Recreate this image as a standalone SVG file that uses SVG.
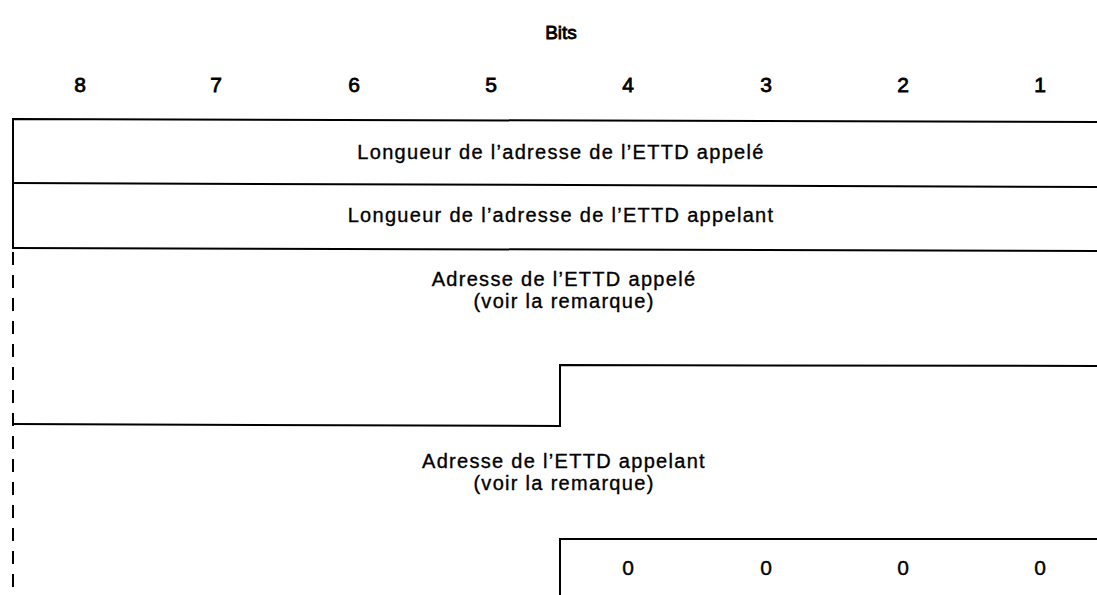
<svg xmlns="http://www.w3.org/2000/svg" width="1097" height="595" viewBox="0 0 1097 595">
<style>
.t{font-family:"Liberation Sans",Arial,sans-serif;font-size:20px;letter-spacing:1.3px;fill:#000;stroke:#000;stroke-width:0.35;text-anchor:middle}
.n{font-family:"Liberation Sans",Arial,sans-serif;font-size:21px;fill:#000;stroke:#000;stroke-width:0.8;text-anchor:middle}
.z{font-family:"Liberation Sans",Arial,sans-serif;font-size:21px;fill:#000;stroke:#000;stroke-width:0.4;text-anchor:middle}
.l{stroke:#000;stroke-width:2;fill:none}
.d{stroke:#000;stroke-width:2;fill:none;stroke-dasharray:13 10}
</style>
<rect width="1097" height="595" fill="#fff"/>
<g id="header">
<text class="n" x="561" y="39" style="font-size:19px">Bits</text>
<text class="n" x="80" y="92">8</text>
<text class="n" x="216" y="92">7</text>
<text class="n" x="354" y="92">6</text>
<text class="n" x="491" y="92">5</text>
<text class="n" x="628" y="92">4</text>
<text class="n" x="766" y="92">3</text>
<text class="n" x="903" y="92">2</text>
<text class="n" x="1040" y="92">1</text>
</g>
<g id="field-called-length">
<polyline class="l" points="1097,122 13,119 13,184"/>
<text class="t" x="561" y="159">Longueur de l’adresse de l’ETTD appelé</text>
</g>
<g id="field-calling-length">
<line class="l" x1="13" y1="183" x2="1097" y2="187"/>
<line class="l" x1="13" y1="184" x2="13" y2="249"/>
<text class="t" x="561" y="222">Longueur de l’adresse de l’ETTD appelant</text>
</g>
<g id="field-called-address">
<line class="l" x1="13" y1="248" x2="1097" y2="251"/>
<polyline class="l" points="13,424 560,426 560,365 1097,366"/>
<text class="t" x="564" y="286">Adresse de l’ETTD appelé</text>
<text class="t" x="564" y="308">(voir la remarque)</text>
</g>
<g id="field-calling-address">
<polyline class="l" points="560,595 560,539 1097,539"/>
<text class="t" x="564" y="468">Adresse de l’ETTD appelant</text>
<text class="t" x="564" y="490">(voir la remarque)</text>
</g>
<g id="padding">
<text class="z" x="628" y="575">0</text>
<text class="z" x="766" y="575">0</text>
<text class="z" x="903" y="575">0</text>
<text class="z" x="1040" y="575">0</text>
</g>
<g id="connectors">
<line class="d" x1="13" y1="252" x2="13" y2="595"/>
</g>
</svg>
